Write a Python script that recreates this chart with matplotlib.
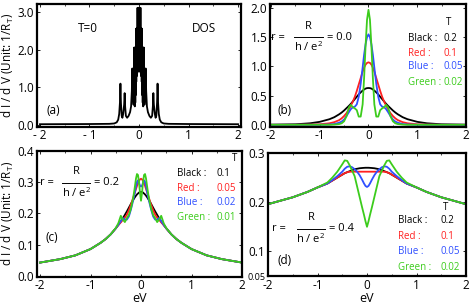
import numpy as np
import matplotlib
matplotlib.use('Agg')
from matplotlib import pyplot as plt

plt.rcParams['font.family'] = ['Open Sans', 'DejaVu Sans']
plt.rcParams['mathtext.fontset'] = 'custom'
plt.rcParams['mathtext.rm'] = 'Open Sans'
plt.rcParams['mathtext.it'] = 'Open Sans'
plt.rcParams['mathtext.default'] = 'regular'

# ---- data (left half incl. 0 for (a), right half incl. 0 for the rest; curves are symmetric)
# (a) DOS at T=0
a_x = [-2.0, -1.0, -0.6, -0.5, -0.45, -0.42, -0.40, -0.385, -0.375, -0.365, -0.35, -0.335,
       -0.32, -0.30, -0.29, -0.28, -0.265, -0.24, -0.21, -0.18, -0.16, -0.145, -0.135,
       -0.125, -0.115, -0.105,
       -0.100, -0.095, -0.090, -0.085, -0.080, -0.075, -0.070, -0.065, -0.060, -0.055,
       -0.050, -0.045, -0.040, -0.035, -0.030, -0.025, -0.020, -0.015, -0.010, -0.005, 0.0]
a_y = [0.03, 0.035, 0.04, 0.05, 0.08, 0.15, 0.3, 0.6, 1.1, 0.6, 0.25, 0.2,
       0.3, 0.55, 0.85, 0.5, 0.25, 0.2, 0.25, 0.35, 0.5, 0.9, 1.5,
       0.9, 0.55, 0.55,
       2.05, 0.55, 2.05, 0.5, 2.05, 0.6, 2.05, 0.8, 2.55, 1.15,
       2.55, 1.3, 2.55, 1.38, 3.1, 1.42, 3.1, 1.44, 3.1, 1.45, 3.1]

# (b) r = 0.0
b_x = [0, 0.03, 0.06, 0.09, 0.12, 0.16, 0.2, 0.24, 0.28, 0.32, 0.36, 0.4, 0.45, 0.5,
       0.55, 0.6, 0.7, 0.8, 1.0, 1.2, 1.5, 2.0]
b_black = [0.63, 0.628, 0.62, 0.605, 0.585, 0.555, 0.52, 0.48, 0.44, 0.40, 0.36, 0.325,
           0.285, 0.245, 0.21, 0.18, 0.13, 0.095, 0.05, 0.025, 0.008, 0.0]
b_red = [1.07, 1.06, 1.03, 0.98, 0.91, 0.8, 0.69, 0.58, 0.48, 0.4, 0.33, 0.27, 0.2, 0.15,
         0.11, 0.08, 0.045, 0.025, 0.008, 0.003, 0.0, 0.0]
b_blue = [1.55, 1.5, 1.38, 1.2, 0.98, 0.7, 0.48, 0.35, 0.31, 0.3, 0.27, 0.22, 0.15, 0.09,
          0.055, 0.035, 0.012, 0.004, 0.0, 0.0, 0.0, 0.0]
b_green = [1.97, 1.8, 1.35, 0.8, 0.35, 0.14, 0.14, 0.25, 0.28, 0.3, 0.34, 0.3, 0.15, 0.06,
           0.025, 0.012, 0.003, 0.0, 0.0, 0.0, 0.0, 0.0]

# (c) r = 0.2
c_x = [0, 0.02, 0.04, 0.06, 0.08, 0.1, 0.13, 0.16, 0.2, 0.24, 0.28, 0.32, 0.36, 0.4, 0.45,
       0.5, 0.6, 0.7, 0.8, 1.0, 1.3, 1.6, 2.0]
c_black = [0.268, 0.268, 0.266, 0.263, 0.26, 0.256, 0.249, 0.241, 0.23, 0.218, 0.206, 0.195,
           0.184, 0.174, 0.163, 0.152, 0.133, 0.118, 0.106, 0.086, 0.066, 0.054, 0.043]
c_red = [0.31, 0.308, 0.303, 0.296, 0.287, 0.277, 0.262, 0.247, 0.228, 0.21, 0.196, 0.186,
         0.179, 0.171, 0.162, 0.152, 0.133, 0.118, 0.106, 0.086, 0.066, 0.054, 0.043]
c_blue = [0.285, 0.288, 0.297, 0.305, 0.3, 0.285, 0.26, 0.238, 0.212, 0.19, 0.18, 0.18,
          0.185, 0.175, 0.163, 0.152, 0.133, 0.118, 0.106, 0.086, 0.066, 0.054, 0.043]
c_green = [0.24, 0.265, 0.3, 0.322, 0.325, 0.31, 0.275, 0.245, 0.215, 0.195, 0.185, 0.172,
           0.18, 0.192, 0.168, 0.153, 0.133, 0.118, 0.106, 0.086, 0.066, 0.054, 0.043]

# (d) r = 0.4
d_x = [0, 0.03, 0.06, 0.1, 0.15, 0.2, 0.25, 0.3, 0.35, 0.4, 0.45, 0.5, 0.6, 0.7, 0.8,
       1.0, 1.2, 1.5, 2.0]
d_black = [0.27, 0.27, 0.2698, 0.2695, 0.269, 0.268, 0.267, 0.265, 0.263, 0.261, 0.259,
           0.256, 0.25, 0.244, 0.238, 0.23, 0.221, 0.21, 0.196]
d_red = [0.262, 0.262, 0.262, 0.262, 0.262, 0.262, 0.262, 0.262, 0.262, 0.261, 0.259,
         0.256, 0.25, 0.244, 0.238, 0.23, 0.221, 0.21, 0.196]
d_blue = [0.231, 0.233, 0.238, 0.246, 0.255, 0.262, 0.267, 0.271, 0.273, 0.272, 0.268,
          0.262, 0.253, 0.245, 0.238, 0.23, 0.221, 0.21, 0.196]
d_green = [0.15, 0.161, 0.174, 0.19, 0.211, 0.232, 0.253, 0.264, 0.275, 0.284, 0.285,
           0.277, 0.262, 0.25, 0.24, 0.23, 0.221, 0.21, 0.196]

b_T = ['0.2', '0.1', '0.05', '0.02']
c_T = ['0.1', '0.05', '0.02', '0.01']
d_T = ['0.2', '0.1', '0.05', '0.02']
names = ['Black', 'Red', 'Blue', 'Green']
colors = ['#000000', '#ff2020', '#2f4fff', '#3ccc1c']


def mirror_right(h, v):
    h = np.asarray(h); v = np.asarray(v)
    return np.concatenate([-h[:0:-1], h]), np.concatenate([v[:0:-1], v])


def mirror_left(h, v):
    h = np.asarray(h); v = np.asarray(v)
    return np.concatenate([h, -h[-2::-1]]), np.concatenate([v, v[-2::-1]])


fig = plt.figure(figsize=(4.71, 3.08), dpi=100)
W, H = 471.0, 308.0


def box(l, t, r, b):
    return [l / W, 1 - b / H, (r - l) / W, (b - t) / H]


ax_a = fig.add_axes(box(37, 4, 241, 126.5))
ax_b = fig.add_axes(box(270, 4, 466, 126.5))
ax_c = fig.add_axes(box(37, 150.5, 242, 276.7))
ax_d = fig.add_axes(box(268, 153, 466, 276))

for ax in (ax_a, ax_b, ax_c, ax_d):
    for s in ax.spines.values():
        s.set_linewidth(1.6)
    ax.tick_params(direction='in', length=2, width=0.6, labelsize=8.5, pad=2,
                   top=True, right=True)
    ax.set_xticks([-2, -1, 0, 1, 2])
    ax.set_xticks([-1.5, -0.5, 0.5, 1.5], minor=True)
    ax.tick_params(which='minor', direction='in', length=1.5, width=0.5, top=True)

# (a)
x, y = mirror_left(a_x, a_y)
ax_a.plot(x, y, color='black', lw=1.3)
ax_a.set_xlim(-2.06, 2.06)
ax_a.set_ylim(-0.03, 3.2)
ax_a.set_yticks([0, 1, 2, 3])
ax_a.set_yticklabels(['0.0', '1.0', '2.0', '3.0'])
ax_a.set_xticklabels(['- 2', '- 1', '0', '1', '2'])
ax_a.text(0.2, 0.77, 'T=0', transform=ax_a.transAxes, fontsize=8.5)
ax_a.text(0.76, 0.77, 'DOS', transform=ax_a.transAxes, fontsize=8.5)
ax_a.text(0.045, 0.1, '(a)', transform=ax_a.transAxes, fontsize=8.5)
ax_a.set_ylabel('d I / d V (Unit: 1/R$_T$)', fontsize=8.5, labelpad=1)


def fraction(ax, r, x0, y0, bar):
    # "r = R / (h/e^2) = r" : x0 = left of "r =", y0 = bar height, bar = (x_start, x_end)
    tr = ax.transAxes
    kw = dict(transform=tr, fontsize=8, va='center')
    ax.text(x0, y0, 'r =', ha='left', **kw)
    xm = 0.5 * (bar[0] + bar[1])
    ax.text(xm, y0 + 0.09, 'R', ha='center', **kw)
    ax.plot(bar, [y0, y0], transform=tr, color='black', lw=0.7)
    ax.text(xm, y0 - 0.085, 'h / e$^2$', ha='center', **kw)
    ax.text(bar[1] + 0.02, y0, '= ' + r, ha='left', **kw)


def legend(ax, tvals, lx, vx, ys, tpos):
    kw = dict(transform=ax.transAxes, fontsize=7, va='center')
    ax.text(tpos[0], tpos[1], 'T', **kw)
    for n, t, c, yy in zip(names, tvals, colors, ys):
        ax.text(lx, yy, n + ' :', color=c, **kw)
        ax.text(vx, yy, t, color=c, **kw)


def curves(ax, hx, ys):
    for v, c in zip(ys, colors):
        x, y = mirror_right(hx, v)
        ax.plot(x, y, color=c, lw=1.3)


# (b)
curves(ax_b, b_x, [b_black, b_red, b_blue, b_green])
fraction(ax_b, '0.0', 0.005, 0.73, (0.12, 0.27))
legend(ax_b, b_T, 0.705, 0.885, [0.72, 0.60, 0.486, 0.363], (0.9, 0.845))
ax_b.text(0.04, 0.1, '(b)', transform=ax_b.transAxes, fontsize=8.5)
ax_b.set_xlim(-2.02, 2.0)
ax_b.set_ylim(-0.03, 2.07)
ax_b.set_yticks([0, 0.5, 1.0, 1.5, 2.0])
ax_b.set_yticklabels(['0.0', '0.5', '1.0', '1.5', '2.0'])
ax_b.set_xticklabels(['-2', '-1', '0', '1', '2'])

# (c)
curves(ax_c, c_x, [c_black, c_red, c_blue, c_green])
fraction(ax_c, '0.2', 0.015, 0.745, (0.122, 0.259))
legend(ax_c, c_T, 0.685, 0.875, [0.82, 0.70, 0.59, 0.47], (0.95, 0.94))
ax_c.text(0.04, 0.28, '(c)', transform=ax_c.transAxes, fontsize=8.5)
ax_c.set_xlim(-2.06, 2.0)
ax_c.set_ylim(-0.002, 0.4)
ax_c.set_yticks([0, 0.1, 0.2, 0.3, 0.4])
ax_c.set_yticklabels(['0.0', '0.1', '0.2', '0.3', '0.4'])
ax_c.set_xticklabels(['-2', '-1', '0', '1', '2'])
ax_c.set_ylabel('d I / d V (Unit: 1/R$_T$)', fontsize=8.5, labelpad=1)
ax_c.set_xlabel('eV', fontsize=9, labelpad=0)

# (d)
curves(ax_d, d_x, [d_black, d_red, d_blue, d_green])
fraction(ax_d, '0.4', 0.02, 0.385, (0.146, 0.288))
legend(ax_d, d_T, 0.655, 0.87, [0.455, 0.325, 0.2, 0.073], (0.885, 0.56))
ax_d.text(0.05, 0.1, '(d)', transform=ax_d.transAxes, fontsize=8.5)
ax_d.set_xlim(-2.0, 2.0)
ax_d.set_ylim(0.05, 0.3)
ax_d.set_yticks([0.05, 0.1, 0.2, 0.3])
ax_d.set_yticklabels(['0.05', '0.1', '0.2', '0.3'])
ax_d.get_yticklabels()[0].set_fontsize(6.5)
ax_d.set_xticklabels(['-2', '-1', '0', '1', '2'])
ax_d.set_xlabel('eV', fontsize=9, labelpad=0)

fig.savefig('out.png', dpi=100)
